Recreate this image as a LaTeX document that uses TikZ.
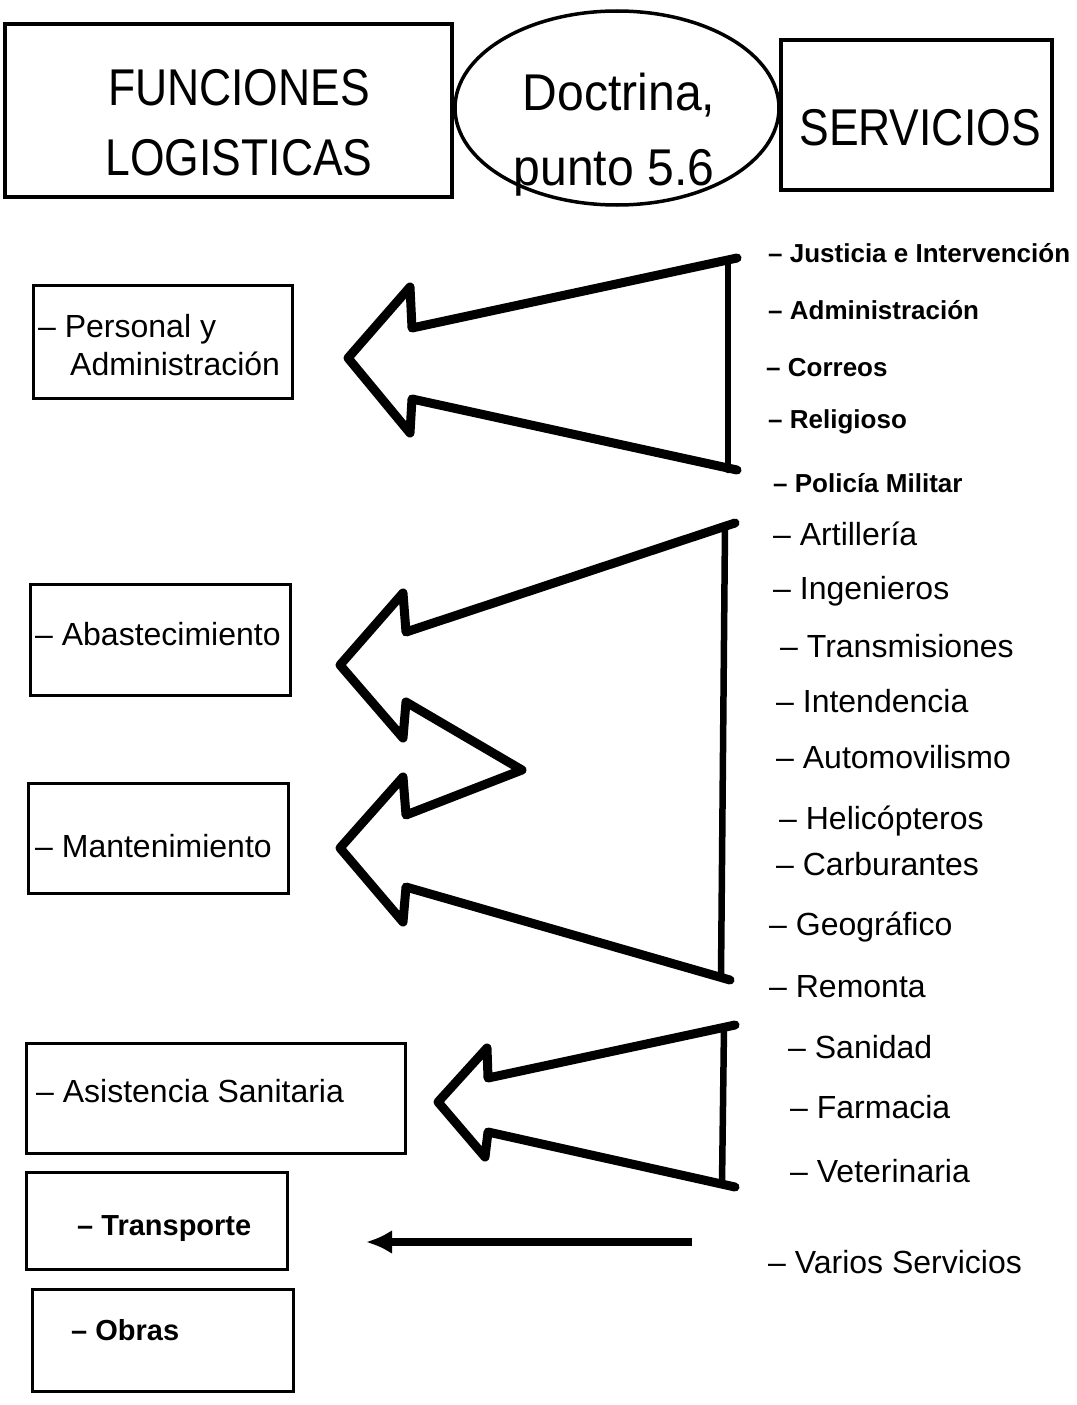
\documentclass[tikz,border=0pt]{standalone}
\usepackage{fontspec}
\setmainfont{Liberation Sans}
\newfontfamily\condfont[FakeStretch=0.86]{Liberation Sans}
\newfontfamily\docfont[FakeStretch=0.93]{Liberation Sans}
\usetikzlibrary{shapes.geometric,arrows.meta}
\tikzset{
  bigbox/.style={draw, line width=4pt, inner sep=0pt},
  smallbox/.style={draw, line width=3pt, inner sep=0pt},
  toptxt/.style={anchor=base, inner sep=0pt, font=\condfont\fontsize{51.7}{60}\selectfont},
  doctxt/.style={anchor=base, inner sep=0pt, font=\docfont\fontsize{51.7}{60}\selectfont},
  medtxt/.style={anchor=base west, inner sep=0pt, font=\fontsize{32}{38}\selectfont},
  boldtxt/.style={anchor=base west, inner sep=0pt, font=\bfseries\fontsize{26}{31}\selectfont},
  boldtxtb/.style={anchor=base west, inner sep=0pt, font=\bfseries\fontsize{29}{34}\selectfont},
  blockarrow/.style={line width=9pt, line join=round, line cap=round},
  barline/.style={line width=6.5pt, line cap=round}
}
\begin{document}
\begin{tikzpicture}[x=1pt,y=-1pt]
\useasboundingbox (0,0) rectangle (1076,1405);
% top boxes
\node[bigbox, minimum width=447pt, minimum height=173pt] (func) at (228.5,110.5) {};
\node[toptxt] (funcA) at (239,105) {FUNCIONES};
\node[toptxt] (funcB) at (239,175) {LOGISTICAS};
\node[draw, ellipse, line width=3.5pt, minimum width=324pt, minimum height=194pt, inner sep=0pt] (doc) at (617,108) {};
\node[doctxt] (docA) at (619,110) {Doctrina,};
\node[doctxt] (docB) at (614,185) {punto 5.6};
\node[bigbox, minimum width=271pt, minimum height=150pt] (serv) at (916.5,115) {};
\node[toptxt] (servA) at (920,145) {SERVICIOS};
% left boxes
\node[smallbox, minimum width=259pt, minimum height=113pt] (pers) at (162.5,341.5) {};
\node[medtxt] (persA) at (38,337) {– Personal y};
\node[medtxt] (persB) at (70,375) {Administración};
\node[smallbox, minimum width=260pt, minimum height=111pt] (abas) at (160,639.5) {};
\node[medtxt] (abasA) at (35,645) {– Abastecimiento};
\node[smallbox, minimum width=260pt, minimum height=110pt] (mant) at (158,838) {};
\node[medtxt] (mantA) at (35,857) {– Mantenimiento};
\node[smallbox, minimum width=379pt, minimum height=110pt] (asis) at (215.5,1098) {};
\node[medtxt] (asisA) at (36,1102) {– Asistencia Sanitaria};
\node[smallbox, minimum width=261pt, minimum height=97pt] (tran) at (156.5,1220.5) {};
\node[boldtxtb] (tranA) at (77,1235) {– Transporte};
\node[smallbox, minimum width=261pt, minimum height=102pt] (obra) at (162.5,1340) {};
\node[boldtxtb] (obraA) at (71,1340) {– Obras};
% right column
\node[boldtxt] (s1) at (768,262) {– Justicia e Intervención};
\node[boldtxt] (s2) at (768,319) {– Administración};
\node[boldtxt] (s3) at (766,376) {– Correos};
\node[boldtxt] (s4) at (768,428) {– Religioso};
\node[boldtxt] (s5) at (773,492) {– Policía Militar};
\node[medtxt] (s6) at (773,545) {– Artillería};
\node[medtxt] (s7) at (773,599) {– Ingenieros};
\node[medtxt] (s8) at (780,657) {– Transmisiones};
\node[medtxt] (s9) at (776,712) {– Intendencia};
\node[medtxt] (s10) at (776,768) {– Automovilismo};
\node[medtxt] (s11) at (779,829) {– Helicópteros};
\node[medtxt] (s12) at (776,875) {– Carburantes};
\node[medtxt] (s13) at (769,935) {– Geográfico};
\node[medtxt] (s14) at (769,997) {– Remonta};
\node[medtxt] (s15) at (788,1058) {– Sanidad};
\node[medtxt] (s16) at (790,1118) {– Farmacia};
\node[medtxt] (s17) at (790,1182) {– Veterinaria};
\node[medtxt] (s18) at (768,1273) {– Varios Servicios};
% block arrow 1
\draw[blockarrow] (737,258) -- (412,328) -- (410,287) -- (348,358) -- (410,433) -- (412,399) -- (737,470);
\draw[barline] (728,260) -- (728,470);
% block arrow 2 (double head)
\draw[blockarrow] (735,523) -- (406,632) -- (403,593) -- (340,665) -- (403,738) -- (406,702) -- (522,770)
  -- (406,815) -- (403,777) -- (340,848) -- (403,922) -- (406,887) -- (730,980);
\draw[barline] (725,527) -- (721,976);
% block arrow 3
\draw[blockarrow] (735,1025) -- (488,1078) -- (487,1048) -- (438,1102) -- (485,1157) -- (488,1132) -- (735,1187);
\draw[barline] (724,1027) -- (722,1184);
% simple arrow
\coordinate (vsStart) at (692,1242);
\coordinate (trEnd) at (366,1242);
\draw[line width=8pt, -{Latex[length=26pt,width=24pt]}] (vsStart) -- (trEnd);
\end{tikzpicture}
\end{document}
